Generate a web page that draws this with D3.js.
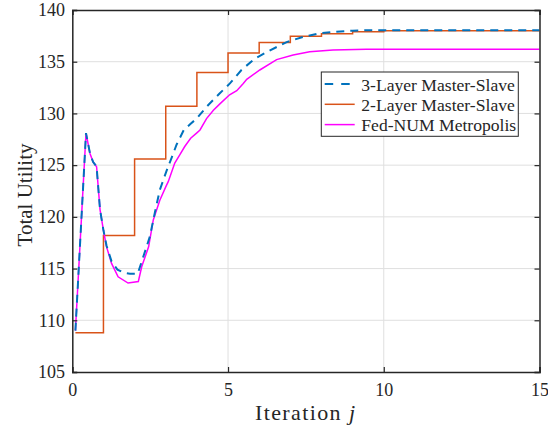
<!DOCTYPE html>
<html><head><meta charset="utf-8">
<script src="https://cdn.jsdelivr.net/npm/d3@7"></script>
<style>body{margin:0;background:#fff}svg{display:block}</style>
</head><body>
<svg id="c" width="548" height="428"></svg>
<script>
const xTicks = [0, 5, 10, 15];
const yTicks = [105, 110, 115, 120, 125, 130, 135, 140];
const seriesNames = ["3-Layer Master-Slave", "2-Layer Master-Slave", "Fed-NUM Metropolis"];

const threeX = [0.1,0.44,0.57,0.67,0.78,0.89,1.0,1.1,1.26,1.45,1.65,1.85,2.1,2.28,2.49,2.65,2.81,3.02,3.2,3.35,3.58,3.8,3.99,4.33,4.72,5.06,5.43,5.86,6.35,6.88,7.41,7.95,8.48,9.0,9.55,10,11,12,13,14,15];
const threeY = [109,128.1,126.1,125.3,124.85,120.7,118.7,117.2,115.7,114.9,114.6,114.5,114.5,116.15,118.1,120.4,122.6,124.4,125.8,127.0,128.4,129.0,129.5,130.7,131.9,132.9,134.2,135.3,136.1,136.9,137.4,137.75,137.9,138.0,138.05,138.05,138.05,138.05,138.05,138.05,138.05];

const twoX = [0.1,1,2,3,4,5,6,7,8,9,10,11,12,13,14,15];
const twoY = [108.8,118.2,125.6,130.7,133.95,135.85,136.85,137.45,137.7,137.9,138.0,138.0,138.0,138.0,138.0,138.0];

const fedX = [0.1,0.44,0.57,0.67,0.78,0.89,1.0,1.1,1.26,1.47,1.79,2.12,2.23,2.45,2.6,2.81,3.0,3.08,3.29,3.45,3.61,3.8,3.99,4.1,4.31,4.53,4.73,5.05,5.28,5.49,5.6,6.02,6.56,7.09,7.62,8.37,9.44,10,11,12,13,14,15];
const fedY = [109,128.1,126.1,125.3,124.85,120.7,118.7,117.1,115.5,114.2,113.6,113.75,115.2,117.1,119.7,121.6,122.9,123.4,125.2,126.0,126.8,127.6,128.1,128.4,129.5,130.3,130.9,131.8,132.2,132.9,133.3,134.2,135.2,135.65,135.97,136.13,136.2,136.2,136.2,136.2,136.2,136.2,136.2];

const FONT = '"Liberation Serif", "Times New Roman", serif';
const INK = "#262626";
const svg = d3.select("#c");
const L = 72.3, R = 539.5, T = 10, B = 372;
const x = d3.scaleLinear().domain([0, 15]).range([L, R]);
const y = d3.scaleLinear().domain([105, 140]).range([B, T]);

svg.append("g").selectAll("line").data(xTicks.slice(1, -1)).join("line")
  .attr("x1", d => x(d)).attr("x2", d => x(d)).attr("y1", T).attr("y2", B)
  .attr("stroke", "#dfdfdf").attr("stroke-width", 1);
svg.append("g").selectAll("line").data(yTicks.slice(1, -1)).join("line")
  .attr("y1", d => y(d)).attr("y2", d => y(d)).attr("x1", L).attr("x2", R)
  .attr("stroke", "#dfdfdf").attr("stroke-width", 1);

svg.append("clipPath").attr("id", "clp").append("rect")
  .attr("x", L).attr("y", T).attr("width", R - L).attr("height", B - T);

const g = svg.append("g").attr("clip-path", "url(#clp)");
const zip = (xs, ys) => xs.map((v, i) => [v, ys[i]]);
const line = d3.line().x(d => x(d[0])).y(d => y(d[1]));
const stepLine = d3.line().x(d => x(d[0])).y(d => y(d[1])).curve(d3.curveStepAfter);

g.append("path").datum(zip(twoX, twoY)).attr("d", stepLine)
  .attr("fill", "none").attr("stroke", "#D95319").attr("stroke-width", 1.5);
g.append("path").datum(zip(fedX, fedY)).attr("d", line)
  .attr("fill", "none").attr("stroke", "#FF00FF").attr("stroke-width", 1.5);
g.append("path").datum(zip(threeX, threeY)).attr("d", line)
  .attr("fill", "none").attr("stroke", "#0072BD").attr("stroke-width", 2)
  .attr("stroke-dasharray", "8,6");

const xb = svg.append("g").attr("transform", `translate(0,${B})`)
  .call(d3.axisBottom(x).tickValues(xTicks).tickSize(-5).tickPadding(11.5).tickFormat(d3.format("d")));
const xt = svg.append("g").attr("transform", `translate(0,${T})`)
  .call(d3.axisTop(x).tickValues(xTicks).tickSize(-5).tickFormat(""));
const yl = svg.append("g").attr("transform", `translate(${L},0)`)
  .call(d3.axisLeft(y).tickValues(yTicks).tickSize(-5).tickPadding(7.3).tickFormat(d3.format("d")));
const yr = svg.append("g").attr("transform", `translate(${R},0)`)
  .call(d3.axisRight(y).tickValues(yTicks).tickSize(-5).tickFormat(""));
[xb, xt, yl, yr].forEach(a => {
  a.attr("font-family", FONT).attr("font-size", 18);
  a.selectAll(".domain").attr("stroke", INK).attr("stroke-width", 1.5);
  a.selectAll(".tick line").attr("stroke", INK).attr("stroke-width", 1.2);
  a.selectAll("text").attr("fill", INK);
});

svg.append("text").attr("x", 305).attr("y", 420).attr("text-anchor", "middle")
  .attr("font-size", 22).attr("font-family", FONT).attr("fill", INK)
  .attr("textLength", 100).attr("lengthAdjust", "spacing")
  .html('Iteration <tspan font-style="italic">j</tspan>');
svg.append("text").attr("transform", `translate(31.5,${(T + B) / 2 + 4}) rotate(-90)`)
  .attr("text-anchor", "middle").attr("font-size", 21).attr("font-family", FONT).attr("fill", INK)
  .text("Total Utility");

const lg = svg.append("g");
lg.append("rect").attr("x", 321.3).attr("y", 72).attr("width", 197).attr("height", 64.3)
  .attr("fill", "#fff").attr("stroke", INK).attr("stroke-width", 1);
const legStyles = [
  {c: "#0072BD", w: 2, d: "8.5,8"},
  {c: "#D95319", w: 1.5, d: null},
  {c: "#FF00FF", w: 1.5, d: null}
];
seriesNames.forEach((n, i) => {
  const yy = 84 + i * 20.3;
  lg.append("line").attr("x1", 324.7).attr("x2", 354.7).attr("y1", yy).attr("y2", yy)
    .attr("stroke", legStyles[i].c).attr("stroke-width", legStyles[i].w)
    .attr("stroke-dasharray", legStyles[i].d);
  lg.append("text").attr("x", 361.3).attr("y", yy + 6.5).attr("font-size", 17.6)
    .attr("font-family", FONT).attr("fill", INK).text(n);
});
</script>
</body></html>
